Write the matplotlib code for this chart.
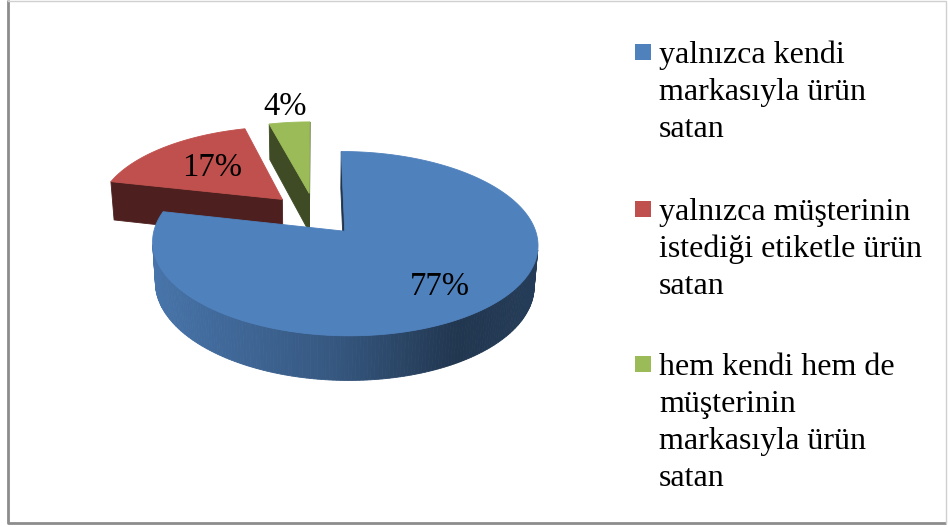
import numpy as np
import matplotlib.pyplot as plt
from matplotlib.patches import Polygon, Rectangle
from matplotlib.colors import to_rgb

# Dados do gráfico
valores = [77, 17, 4]
rotulos = ['77%', '17%', '4%']
cores = ['#4F81BD', '#C0504D', '#9BBB59']
legendas = [['yalnızca kendi', 'markasıyla ürün', 'satan'],
            ['yalnızca müşterinin', 'istediği etiketle ürün', 'satan'],
            ['hem kendi hem de', 'müşterinin', 'markasıyla ürün', 'satan']]

# Parâmetros da vista 3D
W, H = 948, 527
elev = np.radians(27.5)
D = 6.75            # distância da câmera (em raios)
S = 186             # raio em pixels
cx, cy = 315, 214   # centro do pie em pixels
altura = 0.245      # espessura do disco
explode = 0.25
label_r = [0.72, 0.58, 1.25]
fonte = 'Liberation Serif'

cos_e, sin_e = np.cos(elev), np.sin(elev)
cam = np.array([0, -D * cos_e, D * sin_e])


def proj(x, y, z):
    x, y, z = np.asarray(x, float), np.asarray(y, float), np.asarray(z, float)
    prof = D + y * cos_e - z * sin_e
    sx = x * D / prof
    sy = (y * sin_e + z * cos_e) * D / prof
    return cx + S * sx, cy - S * sy


def visivel(normal, ponto):
    return np.dot(normal, cam - ponto) > 0


def sombra_parede(px, x0, x1):
    t = np.clip((px - x0) / (x1 - x0), 0, 1)
    return np.interp(t, [0, 0.5, 0.8, 1.0], [0.93, 0.68, 0.42, 0.47])


fig = plt.figure(figsize=(W / 100, H / 100), dpi=100)
ax = fig.add_axes([0, 0, 1, 1])
ax.set_xlim(0, W)
ax.set_ylim(H, 0)
ax.axis('off')

fracoes = np.array(valores, float) / sum(valores)
fim = np.cumsum(fracoes) * 2 * np.pi
ini = fim - fracoes * 2 * np.pi
meio = (ini + fim) / 2

# ordem de desenho: fatias mais ao fundo primeiro
desloc = [explode * np.array([np.sin(m), np.cos(m)]) for m in meio]
ordem = sorted(range(len(valores)), key=lambda i: -desloc[i][1])

x_esq, x_dir = cx - S, cx + 1.2 * S

for i in ordem:
    base = np.array(to_rgb(cores[i]))
    ox, oy = desloc[i]
    ang = np.linspace(ini[i], fim[i], max(int(fracoes[i] * 360), 8))
    bx, by = ox + np.sin(ang), oy + np.cos(ang)

    faces = []
    # faces radiais (início e fim)
    for a, sinal in [(ini[i], 1), (fim[i], -1)]:
        n = sinal * np.array([-np.cos(a), np.sin(a), 0])
        p = np.array([ox + 0.5 * np.sin(a), oy + 0.5 * np.cos(a), -altura / 2])
        if visivel(n, p):
            xs = [ox, ox + np.sin(a), ox + np.sin(a), ox]
            ys = [oy, oy + np.cos(a), oy + np.cos(a), oy]
            zs = [0, 0, -altura, -altura]
            faces.append((p[1], list(zip(*proj(xs, ys, zs))), base * 0.4))
    # parede externa
    for k in range(len(ang) - 1):
        am = (ang[k] + ang[k + 1]) / 2
        n = np.array([np.sin(am), np.cos(am), 0])
        p = np.array([ox + np.sin(am), oy + np.cos(am), -altura / 2])
        if visivel(n, p):
            xs = [bx[k], bx[k + 1], bx[k + 1], bx[k]]
            ys = [by[k], by[k + 1], by[k + 1], by[k]]
            zs = [0, 0, -altura, -altura]
            pts = list(zip(*proj(xs, ys, zs)))
            f = sombra_parede(np.mean([q[0] for q in pts]), x_esq, x_dir)
            faces.append((p[1], pts, base * f))
    for _, pts, c in sorted(faces, key=lambda t: -t[0]):
        ax.add_patch(Polygon(pts, closed=True, facecolor=c, edgecolor=c, lw=0.6))

    # face superior
    tx, ty = proj(np.r_[ox, bx], np.r_[oy, by], np.zeros(len(bx) + 1))
    ax.add_patch(Polygon(list(zip(tx, ty)), closed=True, facecolor=base,
                         edgecolor=base, lw=0.6))

# rótulos de dados
for i in range(len(valores)):
    r = explode + label_r[i]
    lx, ly = proj(r * np.sin(meio[i]), r * np.cos(meio[i]), 0)
    ax.text(lx, ly, rotulos[i], ha='center', va='center', fontsize=23.5,
            family=fonte, color='black')

# legenda
leg_base = [63, 220, 375]
passo = 37
for i in range(len(valores)):
    ax.add_patch(Rectangle((635, leg_base[i] - 19), 16, 16, facecolor=cores[i],
                           edgecolor='none'))
    for k, linha in enumerate(legendas[i]):
        ax.text(659, leg_base[i] + k * passo, linha, ha='left', va='baseline',
                fontsize=23, family=fonte, color='black')

# moldura
ax.plot([8, 8, 946], [0, 523, 523], color='#8C8C8C', lw=2, solid_capstyle='butt')
ax.plot([8, 946, 946], [1, 1, 523], color='#D0D0D0', lw=1)

fig.savefig('out.png', dpi=100)
